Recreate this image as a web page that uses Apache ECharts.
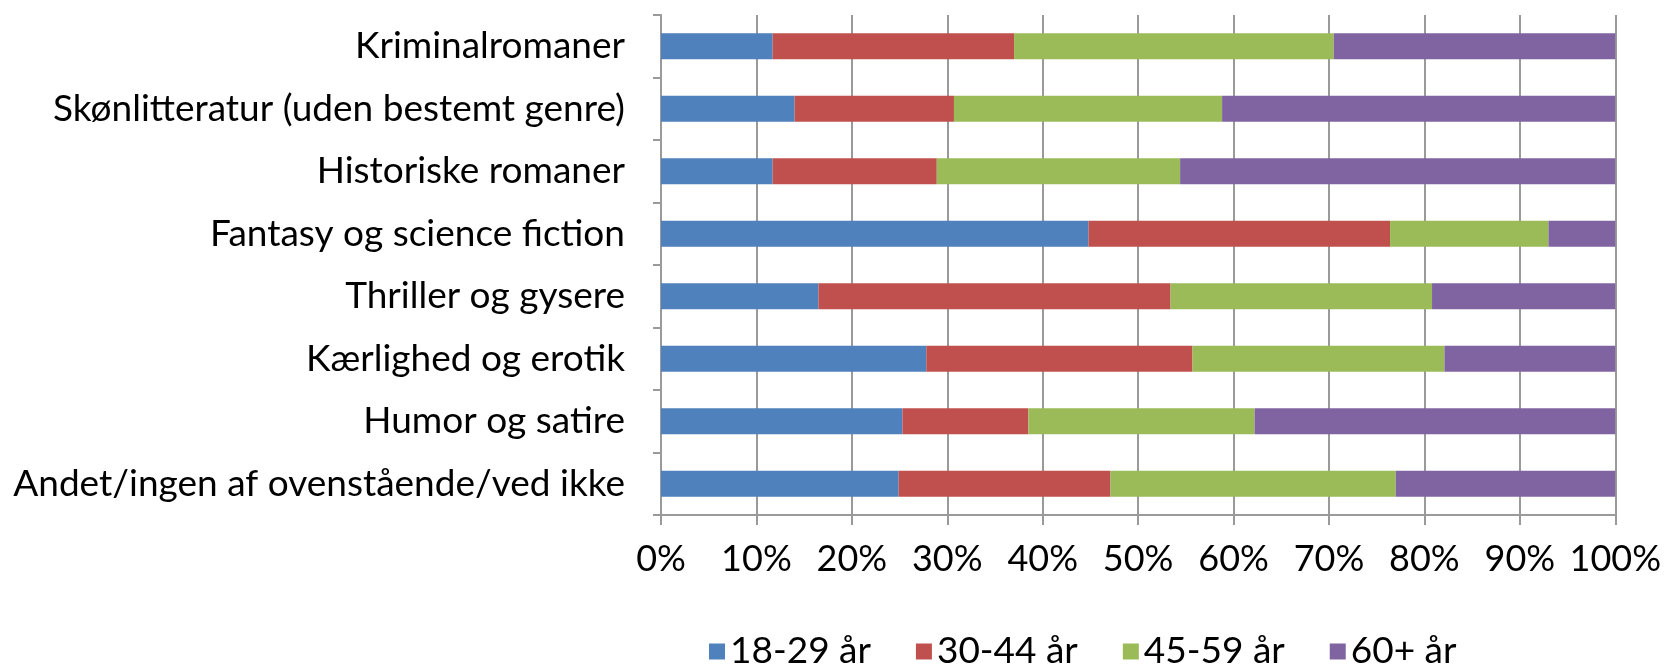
<!DOCTYPE html>
<html><head><meta charset="utf-8">
<script src="https://cdn.jsdelivr.net/npm/echarts@6/dist/echarts.min.js"></script>
<style>html,body{margin:0;padding:0;background:#fff}#c{width:1664px;height:666px}</style>
</head><body><div id="c"></div>
<script>
const categories = ["Kriminalromaner","Skønlitteratur (uden bestemt genre)","Historiske romaner","Fantasy og science fiction","Thriller og gysere","Kærlighed og erotik","Humor og satire","Andet/ingen af ovenstående/ved ikke"];
const seriesNames = ["18-29 år","30-44 år","45-59 år","60+ år"];
const age18_29 = [11.7, 14.0, 11.7, 44.8, 16.5, 27.8, 25.3, 24.9];
const age30_44 = [25.3, 16.7, 17.2, 31.6, 36.9, 27.9, 13.2, 22.2];
const age45_59 = [33.5, 28.1, 25.5, 16.6, 27.4, 26.4, 23.7, 29.9];
const age60plus = [29.5, 41.2, 45.6, 7.0, 19.2, 17.9, 37.8, 23.0];
const colors = ["#4F81BD","#C0504D","#9BBB59","#8064A2"];
const FONT = "Lato";
const chart = echarts.init(document.getElementById('c'), null, {renderer:'canvas'});
const dataSets = [age18_29, age30_44, age45_59, age60plus];
chart.setOption({
  animation:false,
  color: colors,
  textStyle:{fontFamily:FONT},
  grid:{left:661, right:48, top:15, bottom:151, containLabel:false},
  legend:{
    data: seriesNames, left:704, top:628, itemWidth:16, itemHeight:16, itemGap:45,
    icon:'rect',
    textStyle:{fontFamily:FONT, fontSize:37, color:'#000', padding:[0,0,0,0]}
  },
  xAxis:{
    type:'value', min:0, max:100, interval:10,
    axisLine:{show:true, lineStyle:{color:'#9a9a9a', width:2}},
    axisTick:{show:true, length:10, lineStyle:{color:'#9a9a9a', width:2}},
    splitLine:{show:true, lineStyle:{color:'#9a9a9a', width:2}},
    axisLabel:{formatter:'{value}%', fontFamily:FONT, fontSize:36, color:'#000', margin:26}
  },
  yAxis:{
    type:'category', data: categories, inverse:true,
    axisLine:{show:true, lineStyle:{color:'#9a9a9a', width:2}},
    axisTick:{show:true, length:8, lineStyle:{color:'#9a9a9a', width:2}},
    axisLabel:{fontFamily:FONT, fontSize:37, color:'#000', margin:36}
  },
  series: seriesNames.map((n,i)=>({
    name:n, type:'bar', stack:'total', data:dataSets[i], barWidth:26,
    itemStyle:{color:colors[i]}
  }))
});
</script></body></html>
